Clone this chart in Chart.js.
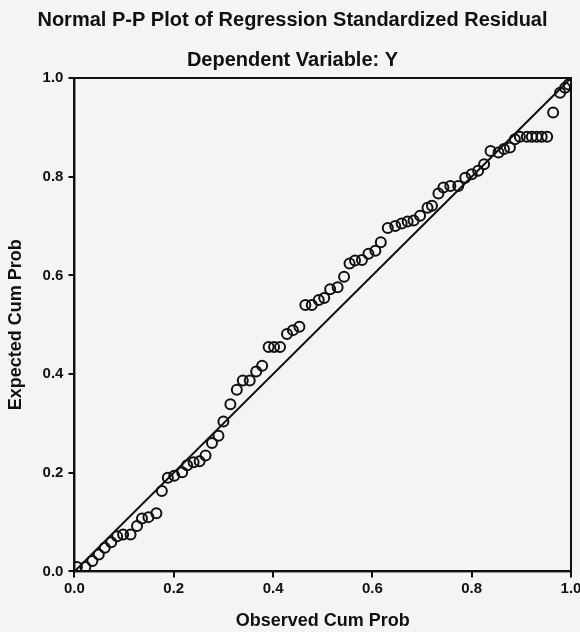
<!DOCTYPE html>
<html>
<head>
<meta charset="utf-8">
<script src="https://cdn.jsdelivr.net/npm/chart.js@4/dist/chart.umd.min.js"></script>
<style>
  html, body { margin: 0; padding: 0; background: #f4f4f4; }
  #wrap { width: 580px; height: 632px; }
</style>
</head>
<body>
<div id="wrap"><canvas id="pp"></canvas></div>
<script>
// observed cum prob (x) and expected cum prob (y)
const observed = [0.005, 0.022, 0.036, 0.049, 0.061, 0.074, 0.086, 0.098, 0.113, 0.126,
  0.136, 0.149, 0.165, 0.176, 0.188, 0.201, 0.217, 0.227, 0.240, 0.252,
  0.264, 0.277, 0.290, 0.300, 0.314, 0.327, 0.339, 0.353, 0.366, 0.378,
  0.391, 0.402, 0.414, 0.428, 0.440, 0.453, 0.465, 0.478, 0.492, 0.503,
  0.515, 0.530, 0.543, 0.554, 0.565, 0.579, 0.592, 0.606, 0.617, 0.631,
  0.646, 0.659, 0.671, 0.683, 0.696, 0.711, 0.720, 0.733, 0.743, 0.757,
  0.773, 0.787, 0.800, 0.813, 0.825, 0.838, 0.854, 0.865, 0.877, 0.887,
  0.897, 0.911, 0.921, 0.931, 0.941, 0.952, 0.964, 0.978, 0.988, 0.995];
const expected = [0.009, 0.009, 0.021, 0.034, 0.048, 0.059, 0.071, 0.075, 0.075, 0.092,
  0.107, 0.110, 0.118, 0.163, 0.190, 0.194, 0.201, 0.215, 0.221, 0.223,
  0.235, 0.260, 0.275, 0.304, 0.339, 0.368, 0.387, 0.387, 0.405, 0.417,
  0.455, 0.455, 0.455, 0.481, 0.489, 0.496, 0.540, 0.540, 0.550, 0.554,
  0.572, 0.576, 0.597, 0.624, 0.630, 0.631, 0.644, 0.650, 0.667, 0.696,
  0.700, 0.705, 0.709, 0.711, 0.721, 0.737, 0.741, 0.766, 0.778, 0.781,
  0.781, 0.798, 0.805, 0.812, 0.825, 0.852, 0.849, 0.856, 0.859, 0.876,
  0.881, 0.881, 0.881, 0.881, 0.881, 0.881, 0.930, 0.970, 0.980, 0.987];
const refLine = [0, 1];
const tickValues = [0, 0.2, 0.4, 0.6, 0.8, 1.0];

let points = [];
for (let i = 0; i < observed.length; i++) {
  points.push({ x: observed[i], y: expected[i] });
}

// box round the plot area
const frame = {
  id: 'frame',
  afterDraw(chart) {
    const a = chart.chartArea;
    const c = chart.ctx;
    c.save();
    c.strokeStyle = '#111';
    c.lineWidth = 2;
    c.strokeRect(a.left, a.top, a.right - a.left, a.bottom - a.top);
    c.restore();
  }
};

const font = 'Liberation Sans, Arial, sans-serif';

function axis(title, pad, tickPad) {
  return {
    type: 'linear',
    min: 0,
    max: 1,
    afterBuildTicks: function (s) { s.ticks = tickValues.map(v => ({ value: v })); },
    ticks: {
      color: '#111',
      font: { family: font, size: 15, weight: 'bold' },
      padding: tickPad,
      callback: v => v.toFixed(1)
    },
    grid: { drawOnChartArea: false, drawTicks: true, tickLength: 6, color: '#111', lineWidth: 2 },
    border: { color: '#111', width: 2 },
    title: {
      display: true,
      text: title,
      color: '#111',
      font: { family: font, size: 18, weight: 'bold' },
      padding: pad
    }
  };
}

let xScale = axis('Observed Cum Prob', { top: 11, bottom: 0 }, 2);
// the last label is allowed to run up to the edge, as in the original
xScale.afterFit = function (s) { s.paddingRight = 9; };

new Chart(document.getElementById('pp').getContext('2d'), {
  type: 'scatter',
  data: {
    datasets: [{
      type: 'line',
      data: refLine.map(v => ({ x: v, y: v })),
      borderColor: '#111',
      borderWidth: 2,
      pointRadius: 0,
      fill: false
    }, {
      data: points,
      pointRadius: 5,
      pointBorderWidth: 2,
      pointBorderColor: '#111',
      pointBackgroundColor: 'rgba(0,0,0,0)'
    }]
  },
  options: {
    responsive: true,
    maintainAspectRatio: false,
    animation: false,
    layout: { padding: { left: 5, right: 0, top: 0, bottom: 0 } },
    plugins: {
      legend: { display: false },
      tooltip: { enabled: false },
      title: {
        display: true,
        text: 'Normal P-P Plot of Regression Standardized Residual',
        color: '#111',
        font: { family: font, size: 20, weight: 'bold' },
        padding: { top: 8, bottom: 16 }
      },
      subtitle: {
        display: true,
        text: 'Dependent Variable: Y',
        color: '#111',
        font: { family: font, size: 20, weight: 'bold' },
        padding: { top: 0, bottom: 6 }
      }
    },
    scales: {
      x: xScale,
      y: axis('Expected Cum Prob', { top: 0, bottom: 11 }, 5)
    }
  },
  plugins: [frame]
});
</script>
</body>
</html>
